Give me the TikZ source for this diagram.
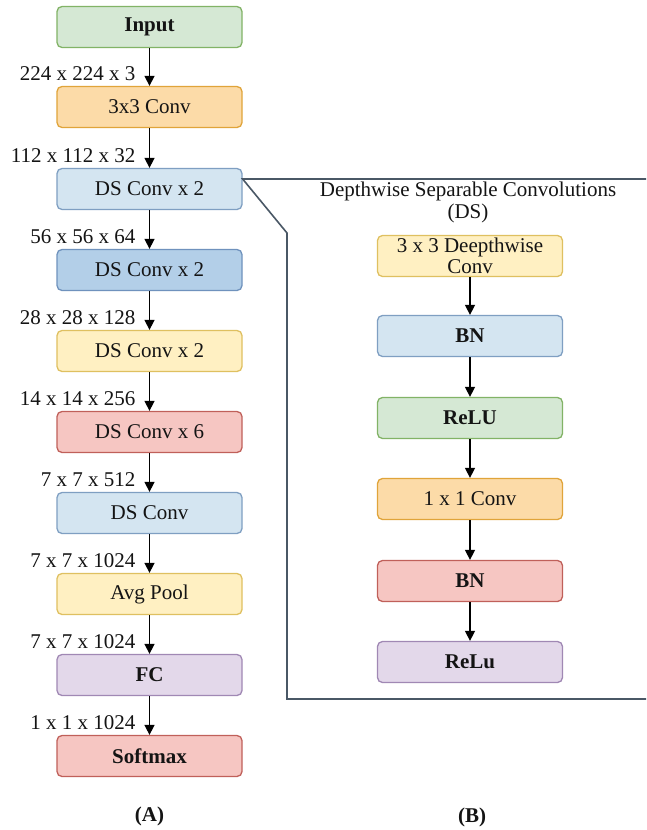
\documentclass[tikz,border=0pt]{standalone}
\usepackage{fontspec}
\setmainfont{Liberation Serif}
\usetikzlibrary{arrows.meta,positioning}

\definecolor{grnF}{HTML}{D5E8D4}\definecolor{grnD}{HTML}{82B366}
\definecolor{orF}{HTML}{FCDBA8}\definecolor{orD}{HTML}{E0A43A}
\definecolor{ltbF}{HTML}{D4E5F1}\definecolor{ltbD}{HTML}{7F9FC2}
\definecolor{dbF}{HTML}{B3CFE8}\definecolor{dbD}{HTML}{6F92BD}
\definecolor{yelF}{HTML}{FFF0C2}\definecolor{yelD}{HTML}{DFC060}
\definecolor{redF}{HTML}{F6C6C2}\definecolor{redD}{HTML}{C0605A}
\definecolor{purF}{HTML}{E3D8EA}\definecolor{purD}{HTML}{A088B4}
\definecolor{frameC}{HTML}{4A5866}
\definecolor{txt}{HTML}{141414}

\newcommand{\bodyfont}{\fontsize{21}{22}\selectfont}

\tikzset{
  blk/.style={rectangle, rounded corners=5pt, line width=1.3pt,
    minimum width=185pt, minimum height=41pt, inner sep=1pt,
    align=center, text=txt, font=\bodyfont},
  bld/.style={font=\bodyfont\bfseries},
  bxgreen/.style={blk, fill=grnF, draw=grnD},
  bxorange/.style={blk, fill=orF, draw=orD},
  bxltblue/.style={blk, fill=ltbF, draw=ltbD},
  bxdkblue/.style={blk, fill=dbF, draw=dbD},
  bxyellow/.style={blk, fill=yelF, draw=yelD},
  bxred/.style={blk, fill=redF, draw=redD},
  bxpurple/.style={blk, fill=purF, draw=purD},
  arr/.style={line width=1.5pt, -{Triangle[width=10pt,length=10pt]}},
  dimtxt/.style={anchor=east, text=txt, inner sep=0pt, font=\bodyfont},
  framel/.style={draw=frameC, line width=1.6pt},
  captxt/.style={text=txt, font=\bodyfont\bfseries}
}

\begin{document}
\begin{tikzpicture}[x=1pt, y=-1pt]
\useasboundingbox[fill=white] (0,0) rectangle (646,830);

% ---- frame around the depthwise separable block ----
\node[bxltblue] (ds1) at (149.5,189) {DS Conv x 2};
\coordinate (tap) at ([yshift=10pt]ds1.east);
\coordinate (fTR) at (tap -| 646,0);
\coordinate (fK) at (287,233);
\coordinate (fBL) at (287,699);
\coordinate (fBR) at (646,699);
\draw[framel] (fTR) -- (tap) -- (fK) -- (fBL) -- (fBR);

% ---- (A) main network ----
\node[bxgreen, bld] (in) at (149.5,27) {Input};
\node[bxorange] (c1) at (149.5,107) {3x3 Conv};
\node[bxdkblue] (ds2) at (149.5,270) {DS Conv x 2};
\node[bxyellow] (ds3) at (149.5,351) {DS Conv x 2};
\node[bxred] (ds4) at (149.5,432) {DS Conv x 6};
\node[bxltblue] (ds5) at (149.5,513) {DS Conv};
\node[bxyellow] (pool) at (149.5,594) {Avg Pool};
\node[bxpurple, bld] (fc) at (149.5,675) {FC};
\node[bxred, bld] (sm) at (149.5,756) {Softmax};

\foreach \a/\b/\t in {in/c1/224 x 224 x 3, c1/ds1/112 x 112 x 32,
    ds1/ds2/56 x 56 x 64, ds2/ds3/28 x 28 x 128, ds3/ds4/14 x 14 x 256,
    ds4/ds5/7 x 7 x 512, ds5/pool/7 x 7 x 1024, pool/fc/7 x 7 x 1024,
    fc/sm/1 x 1 x 1024} {
  \draw[arr] (\a) -- (\b);
  \node[dimtxt] at ([xshift=-14pt,yshift=12pt]\b.north) {\t};
}

\node[captxt] (capA) at (149.5,816) {(A)};

% ---- (B) depthwise separable convolution ----
\node[align=center, text=txt, font=\fontsize{21}{22}\selectfont] (title) at (468,202)
  {Depthwise Separable Convolutions\\(DS)};
\node[bxyellow, font=\fontsize{21}{21}\selectfont] (dw) at (470,256) {3 x 3 Deepthwise\\Conv};
\node[bxltblue, bld] (bn1) at (470,336) {BN};
\node[bxgreen, bld] (r1) at (470,418) {ReLU};
\node[bxorange] (pw) at (470,499) {1 x 1 Conv};
\node[bxred, bld] (bn2) at (470,581) {BN};
\node[bxpurple, bld] (r2) at (470,662) {ReLu};

\draw[arr] (dw) -- (bn1);
\draw[arr] (bn1) -- (r1);
\draw[arr] (r1) -- (pw);
\draw[arr] (pw) -- (bn2);
\draw[arr] (bn2) -- (r2);

\node[captxt] (capB) at (472,817) {(B)};
\end{tikzpicture}
\end{document}
